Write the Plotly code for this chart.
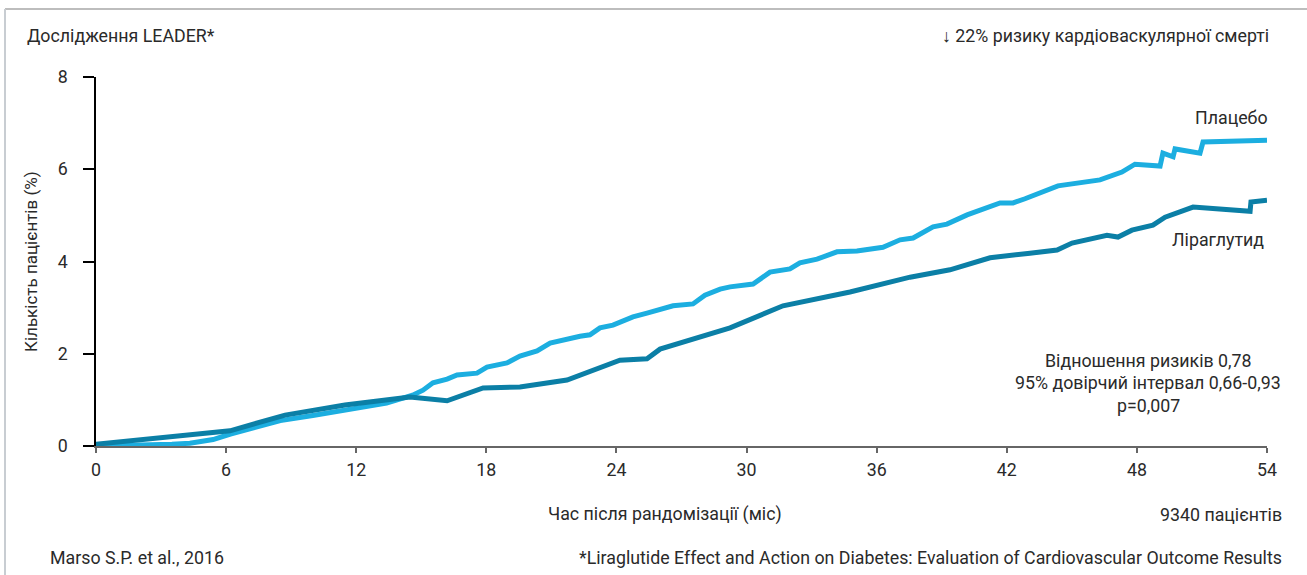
import plotly.graph_objects as go

# ---- data ----
placebo_t = [0, 2.0, 3.5, 4.33, 5.4, 6.2, 7.24, 8.5, 10.0, 12.0, 13.4, 14.6, 15.08, 15.54, 16.19, 16.65,
             17.57, 18.03, 18.95, 19.55, 20.34, 20.94, 21.72, 22.32, 22.78, 23.24, 23.84, 24.76, 25.41,
             26.61, 27.53, 28.08, 28.78, 29.24, 30.3, 31.08, 32.0, 32.46, 33.25, 34.17, 35.09, 36.29,
             37.08, 37.68, 38.6, 39.24, 40.17, 41.09, 41.69, 42.29, 42.84, 44.36, 46.3, 47.31, 47.91,
             49.07, 49.2, 49.67, 49.76, 50.91, 51.05, 54.0]
placebo_v = [0, 0.01, 0.04, 0.06, 0.14, 0.26, 0.40, 0.55, 0.66, 0.81, 0.93, 1.10, 1.21, 1.37, 1.45, 1.54,
             1.58, 1.71, 1.80, 1.95, 2.06, 2.23, 2.32, 2.38, 2.41, 2.56, 2.62, 2.80, 2.88,
             3.04, 3.08, 3.27, 3.40, 3.45, 3.51, 3.77, 3.84, 3.97, 4.05, 4.21, 4.23, 4.31,
             4.47, 4.51, 4.75, 4.81, 5.01, 5.18, 5.27, 5.27, 5.36, 5.64, 5.77, 5.94, 6.11,
             6.07, 6.35, 6.27, 6.44, 6.35, 6.59, 6.63]

lira_t = [0, 6.18, 8.72, 11.48, 14.48, 16.19, 17.85, 19.55, 21.72, 24.16, 25.41, 26.01, 29.24, 31.68,
          34.77, 37.54, 39.38, 41.23, 43.07, 44.32, 45.01, 46.62, 47.13, 47.77, 48.74, 49.3, 50.59,
          53.22, 53.26, 54.0]
lira_v = [0.04, 0.33, 0.67, 0.89, 1.06, 0.98, 1.26, 1.28, 1.43, 1.86, 1.89, 2.10, 2.56, 3.04,
          3.34, 3.66, 3.82, 4.08, 4.18, 4.25, 4.40, 4.57, 4.53, 4.68, 4.79, 4.96, 5.18,
          5.09, 5.29, 5.33]

x_ticks = [0, 6, 12, 18, 24, 30, 36, 42, 48, 54]
y_ticks = [0, 2, 4, 6, 8]

series_names = ["Плацебо", "Ліраглутид"]
title_left = "Дослідження LEADER*"
title_right = "↓ 22% ризику кардіоваскулярної смерті"
stats_lines = ["Відношення ризиків 0,78", "95% довірчий інтервал 0,66-0,93", "p=0,007"]
x_title = "Час після рандомізації (міс)"
y_title = "Кількість пацієнтів (%)"
n_patients = "9340 пацієнтів"
source = "Marso S.P. et al., 2016"
footnote = "*Liraglutide Effect and Action on Diabetes: Evaluation of Cardiovascular Outcome Results"

# ---- layout geometry ----
W, H = 1307, 575
L, R, T, B = 96, 1267, 77, 446   # plot area in pixels


def px(x):
    return (x - L) / (R - L)


def py(y):
    return (B - y) / (B - T)


FONT = "Roboto"
TXT = "#2a2a2a"
C_PLAC = "#1CAEE0"
C_LIRA = "#0B7FA6"
FS = 17.8

fig = go.Figure()
fig.add_trace(go.Scatter(x=placebo_t, y=placebo_v, mode="lines", name=series_names[0],
                         line=dict(color=C_PLAC, width=5), showlegend=False))
fig.add_trace(go.Scatter(x=lira_t, y=lira_v, mode="lines", name=series_names[1],
                         line=dict(color=C_LIRA, width=5), showlegend=False))

fig.update_layout(
    width=W, height=H,
    margin=dict(l=L, r=W - R, t=T, b=H - B, pad=0),
    paper_bgcolor="white", plot_bgcolor="white",
    font=dict(family=FONT, size=FS, color=TXT),
    xaxis=dict(range=[0, 54], tickvals=x_ticks, ticks="outside", ticklen=5, tickwidth=1.5,
               tickcolor="#666666", showline=True, linecolor="#666666", linewidth=1.5,
               showgrid=False, zeroline=False, ticklabelstandoff=2,
               tickfont=dict(family=FONT, size=FS, color=TXT)),
    yaxis=dict(range=[0, 8], tickvals=y_ticks, ticks="outside", ticklen=11, tickwidth=1.5,
               tickcolor="#000000", showline=True, linecolor="#000000", linewidth=1.5,
               showgrid=False, zeroline=False, ticklabelstandoff=12,
               tickfont=dict(family=FONT, size=FS, color=TXT)),
)

ann = []


def add_text(text, x, y, xa="left", size=FS, angle=0):
    ann.append(dict(text=text, x=px(x), y=py(y), xref="paper", yref="paper",
                    xanchor=xa, yanchor="middle", showarrow=False, textangle=angle,
                    font=dict(family=FONT, size=size, color=TXT)))


add_text(title_left, 25, 36, "left")
add_text(title_right, 1271, 35, "right")
add_text(series_names[0], 1270, 117, "right")
add_text(series_names[1], 1266, 240, "right")
for i, s in enumerate(stats_lines):
    add_text(s, 1148, 360 + i * 22.5, "center")
add_text(x_title, 665, 514, "center")
add_text(n_patients, 1284, 514, "right")
add_text(source, 48, 557, "left")
add_text(footnote, 1284, 557, "right")
add_text(y_title, 31, 262, "center", size=17, angle=-90)
fig.update_layout(annotations=ann)

# card frame (top and left edges)
fig.add_shape(type="line", xref="paper", yref="paper", x0=px(5), x1=px(W + 5), y0=py(9), y1=py(9),
              line=dict(color="#BDBDBD", width=2))
fig.add_shape(type="line", xref="paper", yref="paper", x0=px(5), x1=px(5), y0=py(9), y1=py(H + 5),
              line=dict(color="#C8CDD2", width=2))

fig.write_html("out.html", config={"displayModeBar": False},
               post_script="document.body.style.margin='0px';")
